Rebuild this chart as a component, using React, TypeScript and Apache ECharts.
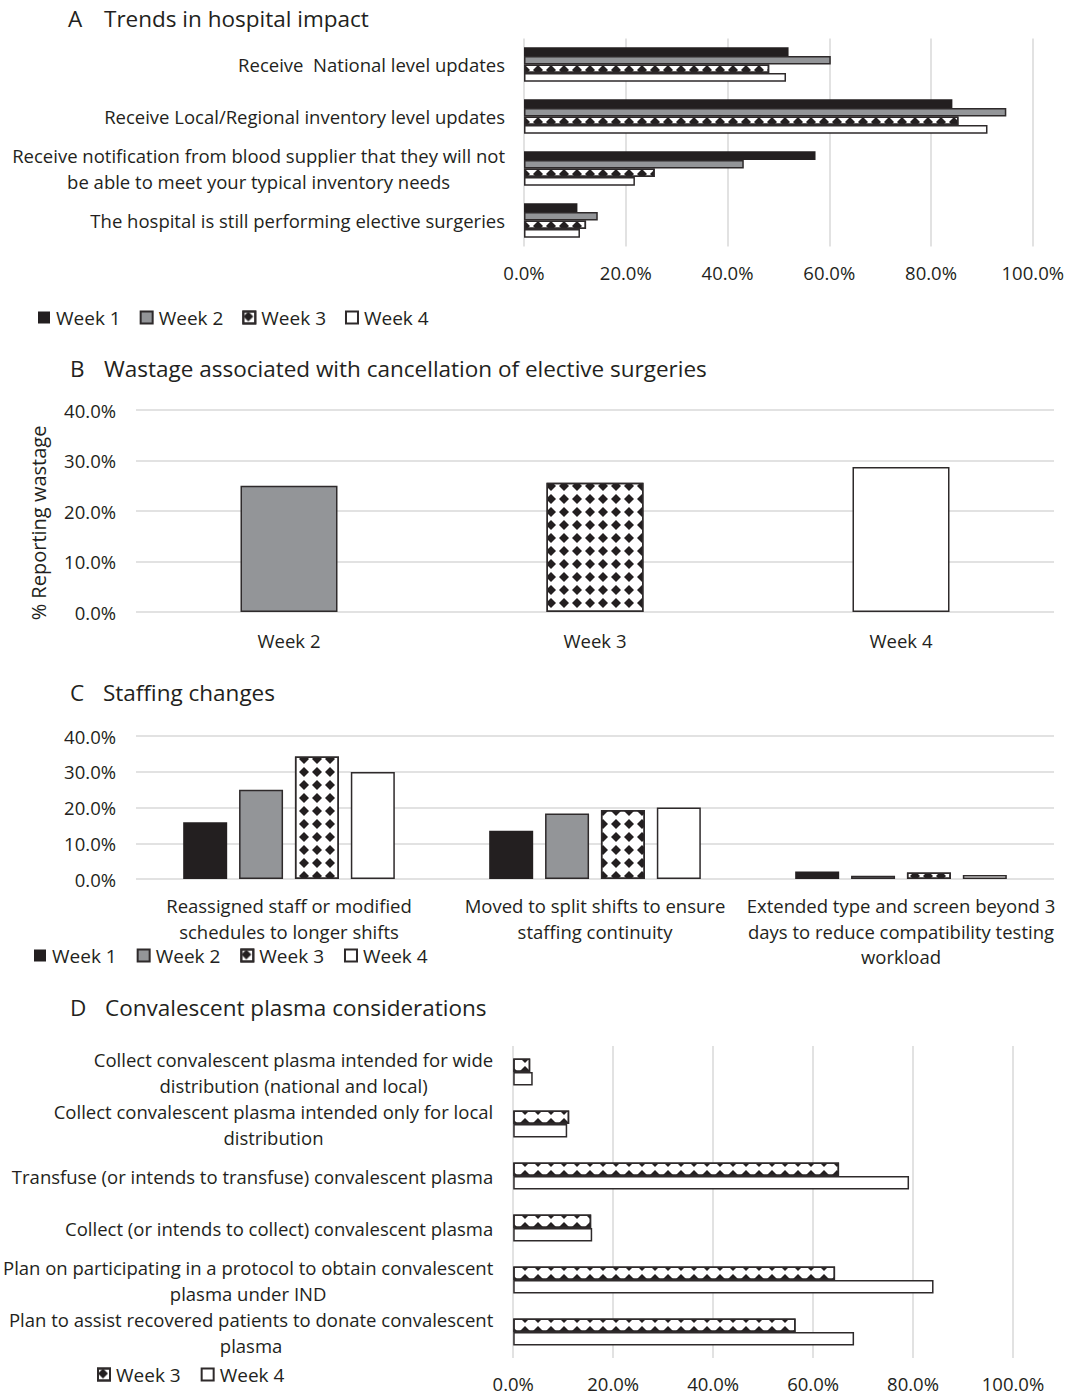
import React, { useEffect, useRef } from 'react';
import * as echarts from 'echarts';

const weeks = ['Week 1', 'Week 2', 'Week 3', 'Week 4'];

const impactCategories = [
  'Receive  National level updates',
  'Receive Local/Regional inventory level updates',
  'Receive notification from blood supplier that they will not\nbe able to meet your typical inventory needs',
  'The hospital is still performing elective surgeries',
];
const impactWeek1 = [52.0, 84.2, 57.3, 10.5];
const impactWeek2 = [60.3, 94.8, 43.2, 14.5];
const impactWeek3 = [48.2, 85.4, 25.7, 12.2];
const impactWeek4 = [51.5, 91.1, 21.8, 11.0];

const wastageCategories = ['Week 2', 'Week 3', 'Week 4'];
const wastageValues = [25.0, 25.6, 28.7];

const staffingCategories = [
  'Reassigned staff or modified\nschedules to longer shifts',
  'Moved to split shifts to ensure\nstaffing continuity',
  'Extended type and screen beyond 3\ndays to reduce compatibility testing\nworkload',
];
const staffingWeek1 = [15.9, 13.5, 2.1];
const staffingWeek2 = [25.0, 18.3, 0.9];
const staffingWeek3 = [34.3, 19.3, 1.8];
const staffingWeek4 = [29.9, 20.0, 1.1];

const plasmaCategories = [
  'Collect convalescent plasma intended for wide\ndistribution (national and local)',
  'Collect convalescent plasma intended only for local\ndistribution',
  'Transfuse (or intends to transfuse) convalescent plasma',
  'Collect (or intends to collect) convalescent plasma',
  'Plan on participating in a protocol to obtain convalescent\nplasma under IND',
  'Plan to assist recovered patients to donate convalescent\nplasma',
];
const plasmaWeek3 = [3.4, 11.2, 65.2, 15.6, 64.4, 56.5];
const plasmaWeek4 = [3.9, 10.8, 79.2, 15.8, 84.1, 68.2];

const titles = [
  ['A', 'Trends in hospital impact'],
  ['B', 'Wastage associated with cancellation of elective surgeries'],
  ['C', 'Staffing changes'],
  ['D', 'Convalescent plasma considerations'],
];

const FONT = '"Open Sans", "Noto Sans", sans-serif';
const INK = '#231f20';
const GRAY = '#939598';
const EDGE = '#2e2a2b';
const GRIDC = '#d9d9d9';
const FS = 18.5;

const DECAL = {
  symbol: 'diamond',
  symbolSize: 1,
  color: INK,
  dashArrayX: [10, 2.5],
  dashArrayY: [10, 2.5],
  rotation: 0,
};

const weekStyles: any[] = [
  { color: INK, borderColor: INK, borderWidth: 0 },
  { color: GRAY, borderColor: EDGE, borderWidth: 1.5 },
  { color: '#ffffff', borderColor: EDGE, borderWidth: 1.5, decal: DECAL },
  { color: '#ffffff', borderColor: EDGE, borderWidth: 1.5 },
];

const pct = (v: number) => v.toFixed(1) + '%';
const centered = (v: string) =>
  v
    .split('\n')
    .map((l) => '{c|' + l + '}')
    .join('\n');

function buildOption() {
  const txt = { fontFamily: FONT, fontSize: FS, color: INK };
  const valueAxisCommon = {
    type: 'value',
    axisLine: { show: false },
    axisTick: { show: false },
    splitLine: { lineStyle: { color: GRIDC, width: 1.5 } },
  };
  const catAxisCommon = {
    type: 'category',
    axisLine: { show: false },
    axisTick: { show: false },
  };

  const title: any[] = [];
  const titleTops = [7, 357, 681, 996];
  const letterLefts = [68, 70, 70, 70];
  const textLefts = [104, 104, 103, 105];
  titles.forEach((t, i) => {
    title.push({
      text: t[0],
      left: letterLefts[i],
      top: titleTops[i],
      padding: 0,
      textStyle: { fontFamily: FONT, fontSize: 22.5, fontWeight: 'normal', color: INK },
    });
    title.push({
      text: t[1],
      left: textLefts[i],
      top: titleTops[i],
      padding: 0,
      textStyle: { fontFamily: FONT, fontSize: 22.5, fontWeight: 'normal', color: INK },
    });
  });

  const legendCommon = {
    icon: 'rect',
    itemWidth: 12,
    itemHeight: 12,
    itemGap: 19,
    padding: 0,
    selectedMode: false,
    textStyle: { ...txt, fontSize: 19, padding: [0, 0, 0, 1] },
  };

  const series: any[] = [];
  const impactData = [impactWeek1, impactWeek2, impactWeek3, impactWeek4];
  impactData.forEach((d, i) => {
    series.push({
      type: 'bar',
      name: weeks[i],
      xAxisIndex: 0,
      yAxisIndex: 0,
      data: d,
      barWidth: 8.6,
      barGap: '0%',
      itemStyle: weekStyles[i],
    });
  });
  series.push({
    type: 'bar',
    name: 'Wastage',
    xAxisIndex: 1,
    yAxisIndex: 1,
    barWidth: 97,
    data: wastageValues.map((v, i) => ({ value: v, itemStyle: weekStyles[i + 1] })),
  });
  const staffingData = [staffingWeek1, staffingWeek2, staffingWeek3, staffingWeek4];
  staffingData.forEach((d, i) => {
    series.push({
      type: 'bar',
      name: weeks[i],
      xAxisIndex: 2,
      yAxisIndex: 2,
      data: d,
      barWidth: 44,
      barGap: '27%',
      itemStyle: weekStyles[i],
    });
  });
  [plasmaWeek3, plasmaWeek4].forEach((d, i) => {
    series.push({
      type: 'bar',
      name: weeks[i + 2],
      xAxisIndex: 3,
      yAxisIndex: 3,
      data: d,
      barWidth: 13.5,
      barGap: '0%',
      itemStyle: weekStyles[i + 2],
    });
  });

  return {
    animation: false,
    backgroundColor: '#ffffff',
    textStyle: { fontFamily: FONT },
    title,
    legend: [
      { ...legendCommon, left: 38, top: 308, data: weeks },
      { ...legendCommon, itemGap: 20, left: 34, top: 946, data: weeks },
      { ...legendCommon, itemGap: 20, left: 97, top: 1365, data: ['Week 3', 'Week 4'] },
    ],
    grid: [
      { left: 524, width: 510, top: 38.5, height: 208 },
      { left: 136, width: 918, top: 410, height: 202 },
      { left: 136, width: 918, top: 736, height: 143 },
      { left: 512, width: 501, top: 1046, height: 312 },
    ],
    xAxis: [
      {
        ...valueAxisCommon,
        gridIndex: 0,
        min: 0,
        max: 100,
        interval: 20,
        axisLabel: { ...txt, margin: 16, formatter: pct },
      },
      {
        ...catAxisCommon,
        gridIndex: 1,
        data: wastageCategories,
        axisLabel: { ...txt, margin: 19 },
      },
      {
        ...catAxisCommon,
        gridIndex: 2,
        data: staffingCategories,
        axisLabel: { ...txt, margin: 14, lineHeight: 25.5, interval: 0 },
      },
      {
        ...valueAxisCommon,
        gridIndex: 3,
        min: 0,
        max: 100,
        interval: 20,
        axisLabel: { ...txt, margin: 15, lineHeight: 20, formatter: pct },
      },
    ],
    yAxis: [
      {
        ...catAxisCommon,
        gridIndex: 0,
        inverse: true,
        data: impactCategories,
        axisLabel: {
          ...txt,
          margin: 19,
          interval: 0,
          formatter: centered,
          rich: { c: { ...txt, align: 'center', lineHeight: 26 } },
        },
      },
      {
        ...valueAxisCommon,
        gridIndex: 1,
        min: 0,
        max: 40,
        interval: 10,
        axisLabel: { ...txt, margin: 20, formatter: pct },
        name: '% Reporting wastage',
        nameLocation: 'middle',
        nameGap: 88,
        nameTextStyle: { ...txt, fontSize: 20, padding: [0, 24, 0, 0] },
      },
      {
        ...valueAxisCommon,
        gridIndex: 2,
        min: 0,
        max: 40,
        interval: 10,
        axisLabel: { ...txt, margin: 20, formatter: pct },
      },
      {
        ...catAxisCommon,
        gridIndex: 3,
        inverse: true,
        data: plasmaCategories,
        axisLabel: {
          ...txt,
          margin: 20,
          interval: 0,
          formatter: centered,
          rich: { c: { ...txt, align: 'center', lineHeight: 26 } },
        },
      },
    ],
    series,
  };
}

export default function App() {
  const ref = useRef<HTMLDivElement>(null);
  useEffect(() => {
    if (!ref.current) return;
    const chart = echarts.init(ref.current, null, { renderer: 'svg' });
    chart.setOption(buildOption() as any);
    return () => chart.dispose();
  }, []);
  return (
    <div
      ref={ref}
      style={{ position: 'absolute', left: 0, top: 0, width: 1067, height: 1394, background: '#fff' }}
    />
  );
}
